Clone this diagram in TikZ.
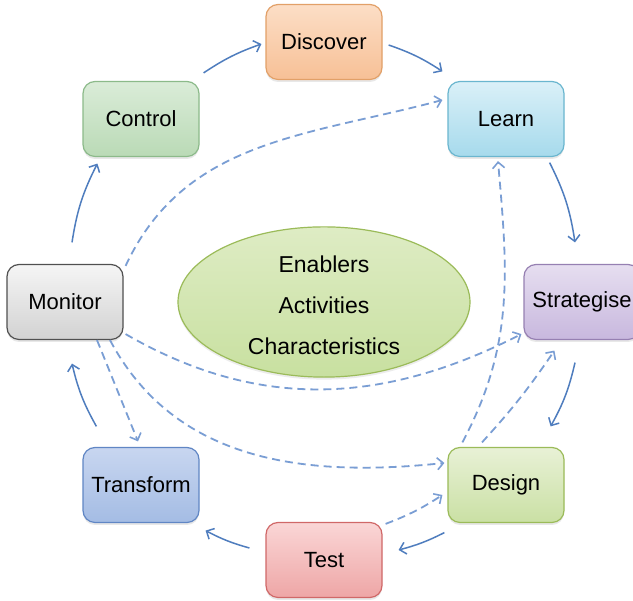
\documentclass[tikz,border=0pt]{standalone}
\usepackage{fontspec}
\setmainfont{Liberation Sans}
\usetikzlibrary{arrows.meta,shadows,shapes.geometric}

\definecolor{flowblue}{RGB}{79,125,190}
\definecolor{linkblue}{RGB}{122,158,212}

\begin{document}
\begin{tikzpicture}[x=1pt,y=1pt,
  stage/.style={rectangle, rounded corners=12pt, minimum width=116pt,
    minimum height=75pt, line width=1.2pt, inner sep=0pt,
    font=\fontsize{22}{26}\selectfont,
    drop shadow={shadow xshift=0pt, shadow yshift=-2.5pt, opacity=0.18}},
  tint/.style n args={3}{draw=#1, top color=#2, bottom color=#3},
  flow/.style={draw=flowblue, line width=1.5pt,
    -{Straight Barb[length=6pt,width=12pt,line width=1.5pt]}},
  link/.style={draw=linkblue, line width=1.8pt, dash pattern=on 8pt off 5pt,
    -{Straight Barb[length=6pt,width=12pt,line width=1.6pt]}},
]
\fill[white] (0,0) rectangle (633,601);
\useasboundingbox (0,0) rectangle (633,601);

% centre ellipse
\node[ellipse, minimum width=292pt, minimum height=124pt, inner sep=0pt,
      line width=1.2pt, draw={rgb,255:red,155;green,187;blue,89},
      top color={rgb,255:red,222;green,236;blue,196},
      bottom color={rgb,255:red,200;green,224;blue,160},
      drop shadow={shadow xshift=0pt, shadow yshift=-2.5pt, opacity=0.15},
      align=center, font=\fontsize{23}{41}\selectfont]
      (core) at (324,299) {\rule{0pt}{24pt}Enablers\\Activities\\Characteristics};

% stages of the cycle
\node[stage, tint={{rgb,255:red,226;green,160;blue,104}}{{rgb,255:red,252;green,222;blue,198}}{{rgb,255:red,247;green,192;blue,150}}] (disc) at (324,559) {Discover};
\node[stage, tint={{rgb,255:red,106;green,182;blue,207}}{{rgb,255:red,218;green,240;blue,248}}{{rgb,255:red,166;green,218;blue,236}}] (learn) at (506,482) {Learn};
\node[stage, tint={{rgb,255:red,150;green,128;blue,178}}{{rgb,255:red,230;green,222;blue,240}}{{rgb,255:red,200;green,184;blue,222}}] (strat) at (582,299) {Strategise};
\node[stage, tint={{rgb,255:red,155;green,187;blue,89}}{{rgb,255:red,232;green,241;blue,214}}{{rgb,255:red,202;green,224;blue,164}}] (design) at (506,116) {Design};
\node[stage, tint={{rgb,255:red,208;green,104;blue,104}}{{rgb,255:red,250;green,214;blue,214}}{{rgb,255:red,238;green,166;blue,166}}] (test) at (324,41) {Test};
\node[stage, tint={{rgb,255:red,96;green,134;blue,196}}{{rgb,255:red,200;green,214;blue,240}}{{rgb,255:red,164;green,188;blue,228}}] (trans) at (141,116) {Transform};
\node[stage, tint={{rgb,255:red,80;green,80;blue,80}}{{rgb,255:red,245;green,245;blue,245}}{{rgb,255:red,210;green,210;blue,210}}] (mon) at (65,299) {Monitor};
\node[stage, tint={{rgb,255:red,140;green,186;blue,138}}{{rgb,255:red,218;green,236;blue,216}}{{rgb,255:red,186;green,218;blue,182}}] (ctrl) at (141,482) {Control};

% the cycle, clockwise
\draw[flow] ([shift={(4,8)}]ctrl.north east) to[bend left=7] ([shift={(-4,-2)}]disc.west);
\draw[flow] ([shift={(6,-3)}]disc.east) to[bend left=7] ([shift={(-5,9.5)}]learn.north west);
\draw[flow] ([shift={(-15,-5.5)}]learn.south east) to[bend left=9] ([shift={(-7,21.5)}]strat.north);
\draw[flow] ([shift={(-7,-22.5)}]strat.south) to[bend left=8] ([shift={(-14,20.5)}]design.north east);
\draw[flow] ([shift={(-3,-9.5)}]design.south west) to[bend left=6] ([shift={(16,10)}]test.east);
\draw[flow] ([shift={(-16,12)}]test.west) to[bend left=6] ([shift={(6,-7.5)}]trans.south east);
\draw[flow] ([shift={(14,20.5)}]trans.north west) to[bend left=8] ([shift={(7,-23.5)}]mon.south);
\draw[flow] ([shift={(7,21.5)}]mon.north) to[bend left=9] ([shift={(15,-6.5)}]ctrl.south west);

% cross links
\draw[link] ([shift={(2,-2)}]mon.north east) to[out=65,in=195] ([shift={(-5,19)}]learn.west);
\draw[link] ([shift={(2,6)}]mon.south east) to[out=-30,in=207] ([shift={(-2,6)}]strat.south west);
\draw[link] ([xshift=45]mon.south) to[out=-62,in=186] ([shift={(-3,22)}]design.west);
\draw[link] ([xshift=32]mon.south) -- ([shift={(-3,5.5)}]trans.north);
\draw[link] ([shift={(3,-2)}]test.north east) to[bend right=6] ([shift={(-5,-10)}]design.west);
\draw[link] ([shift={(15,4.5)}]design.north west) to[out=62,in=-85] ([shift={(-8,-4)}]learn.south);
\draw[link] ([shift={(-24,4.5)}]design.north) to[bend right=4] ([shift={(31,-10.5)}]strat.south west);
\end{tikzpicture}
\end{document}
